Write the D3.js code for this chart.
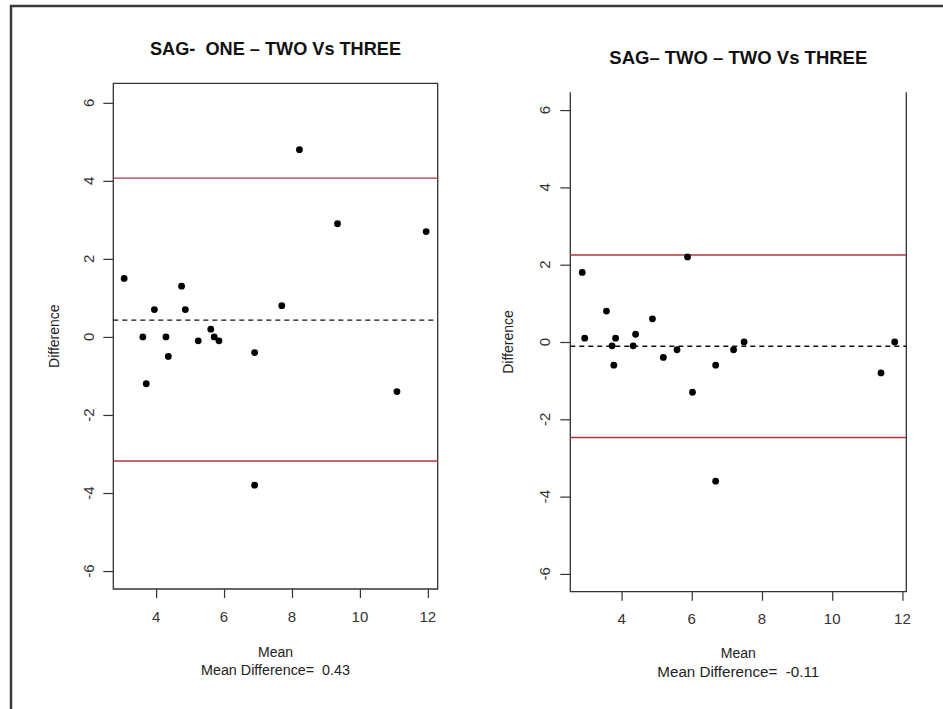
<!DOCTYPE html>
<html>
<head>
<meta charset="utf-8">
<script src="https://cdn.jsdelivr.net/npm/d3@7/dist/d3.min.js"></script>
<style>
  html, body { margin: 0; padding: 0; background: #fff; }
  svg { display: block; }
  text { font-family: "Liberation Sans", Arial, sans-serif; white-space: pre; }
</style>
</head>
<body>
<svg id="chart" width="943" height="709"></svg>
<script>
// ---------- DATA ----------
const xTicks = [4, 6, 8, 10, 12];
const yTicks = [-6, -4, -2, 0, 2, 4, 6];

const titles = ["SAG-  ONE \u2013 TWO Vs THREE", "SAG\u2013 TWO \u2013 TWO Vs THREE"];
const xLabel = "Mean";
const yLabel = "Difference";
const meanDiffLabels = ["Mean Difference=  0.43", "Mean Difference=  -0.11"];

// Panel 1: SAG- ONE
const mean1 = [3.06, 8.22, 9.34, 11.95, 4.75, 3.95, 4.86, 7.70, 3.61, 4.29, 5.61, 5.71, 5.85, 5.24, 6.90, 4.36, 3.71, 11.09, 6.90];
const diff1 = [1.5, 4.8, 2.9, 2.7, 1.3, 0.7, 0.7, 0.8, 0.0, 0.0, 0.2, 0.0, -0.1, -0.1, -0.4, -0.5, -1.2, -1.4, -3.8];
const bias1 = 0.43;
const limits1 = [-3.18, 4.07];

// Panel 2: SAG- TWO
const mean2 = [2.88, 5.88, 3.57, 4.88, 2.95, 3.83, 4.40, 3.73, 4.33, 5.58, 7.19, 7.49, 11.78, 5.19, 3.78, 6.68, 11.39, 6.02, 6.68];
const diff2 = [1.8, 2.2, 0.8, 0.6, 0.1, 0.1, 0.2, -0.1, -0.1, -0.2, -0.2, 0.0, 0.0, -0.4, -0.6, -0.6, -0.8, -1.3, -3.6];
const bias2 = -0.11;
const limits2 = [-2.47, 2.25];

// ---------- LAYOUT ----------
const panels = [
  { mean: mean1, diff: diff1, bias: bias1, limits: limits1, title: titles[0], md: meanDiffLabels[0],
    xDom: [2.74, 12.29], xRange: [113.3, 437.7], yDom: [-6.46, 6.5], yRange: [589, 83.3],
    topLine: true, titleY: 55, titleLen: 251, tickLabelY: 622, meanY: 656.5, mdY: 675,
    yTickLabX: 93.5, yLabX: 58.5, mdLen: 149 },
  { mean: mean2, diff: diff2, bias: bias2, limits: limits2, title: titles[1], md: meanDiffLabels[1],
    xDom: [2.54, 12.11], xRange: [570.3, 906.3], yDom: [-6.46, 6.46], yRange: [591.7, 92.3],
    topLine: false, titleY: 63.5, titleLen: 258, tickLabelY: 623.5, meanY: 658, mdY: 676.5,
    yTickLabX: 550, yLabX: 513.3, mdLen: 162 }
];

const svg = d3.select("#chart");
const axisCol = "#333";
const textCol = "#222";

// outer frame
svg.append("path")
  .attr("d", "M11,709 L11,6 L943,6")
  .attr("fill", "none").attr("stroke", "#3a3a3a").attr("stroke-width", 2.5);

panels.forEach(p => {
  const x = d3.scaleLinear().domain(p.xDom).range(p.xRange);
  const y = d3.scaleLinear().domain(p.yDom).range(p.yRange);
  const g = svg.append("g");
  const [x0, x1] = p.xRange;
  const [yb, yt] = p.yRange;

  // plot box
  const boxPath = p.topLine
    ? `M${x0},${yb}L${x1},${yb}L${x1},${yt}L${x0},${yt}Z`
    : `M${x0},${yt}L${x0},${yb}L${x1},${yb}L${x1},${yt}`;
  g.append("path").attr("d", boxPath).attr("fill", "none")
    .attr("stroke", axisCol).attr("stroke-width", 1.3);

  // x axis ticks
  const xa = g.append("g").attr("transform", `translate(0,${yb})`)
    .call(d3.axisBottom(x).tickValues(xTicks).tickSize(9).tickSizeOuter(0).tickFormat(d3.format("d")));
  xa.select(".domain").remove();
  xa.selectAll(".tick line").attr("stroke", axisCol).attr("stroke-width", 1.2);
  xa.selectAll(".tick text").remove();
  g.selectAll(".xtl").data(xTicks).enter().append("text")
    .attr("x", d => x(d)).attr("y", p.tickLabelY)
    .attr("text-anchor", "middle").attr("font-size", 15).attr("fill", "#333")
    .text(d => d);

  // y axis ticks
  const ya = g.append("g").attr("transform", `translate(${x0},0)`)
    .call(d3.axisLeft(y).tickValues(yTicks).tickSize(10).tickSizeOuter(0));
  ya.select(".domain").remove();
  ya.selectAll(".tick line").attr("stroke", axisCol).attr("stroke-width", 1.2);
  ya.selectAll(".tick text").remove();
  g.selectAll(".ytl").data(yTicks).enter().append("text")
    .attr("transform", d => `translate(${p.yTickLabX},${y(d)}) rotate(-90)`)
    .attr("text-anchor", "middle").attr("font-size", 15).attr("fill", "#333")
    .text(d => d);

  // limits of agreement
  g.selectAll(".loa").data(p.limits).enter().append("line")
    .attr("x1", x0).attr("x2", x1).attr("y1", d => y(d)).attr("y2", d => y(d))
    .attr("stroke", "#b0343f").attr("stroke-width", 1.4);

  // mean difference
  g.append("line")
    .attr("x1", x0).attr("x2", x1).attr("y1", y(p.bias)).attr("y2", y(p.bias))
    .attr("stroke", "#111").attr("stroke-width", 1.3).attr("stroke-dasharray", "5,4");

  // points
  g.selectAll(".pt").data(p.mean.map((m, i) => [m, p.diff[i]])).enter().append("circle")
    .attr("cx", d => x(d[0])).attr("cy", d => y(d[1])).attr("r", 3.4).attr("fill", "#000");

  // title
  const cx = (x0 + x1) / 2;
  g.append("text").attr("x", cx).attr("y", p.titleY)
    .attr("text-anchor", "middle").attr("font-size", 18).attr("font-weight", "bold")
    .attr("fill", "#111")
    .attr("textLength", p.titleLen).attr("lengthAdjust", "spacingAndGlyphs")
    .text(p.title);

  // x labels
  g.append("text").attr("x", cx).attr("y", p.meanY)
    .attr("text-anchor", "middle").attr("font-size", 14).attr("fill", textCol).text(xLabel);
  g.append("text").attr("x", cx).attr("y", p.mdY)
    .attr("text-anchor", "middle").attr("font-size", 14).attr("fill", textCol)
    .attr("textLength", p.mdLen).attr("lengthAdjust", "spacingAndGlyphs")
    .text(p.md);

  // y label
  g.append("text")
    .attr("transform", `translate(${p.yLabX},${(yb + yt) / 2}) rotate(-90)`)
    .attr("text-anchor", "middle").attr("font-size", 14).attr("fill", textCol).text(yLabel);
});
</script>
</body>
</html>
